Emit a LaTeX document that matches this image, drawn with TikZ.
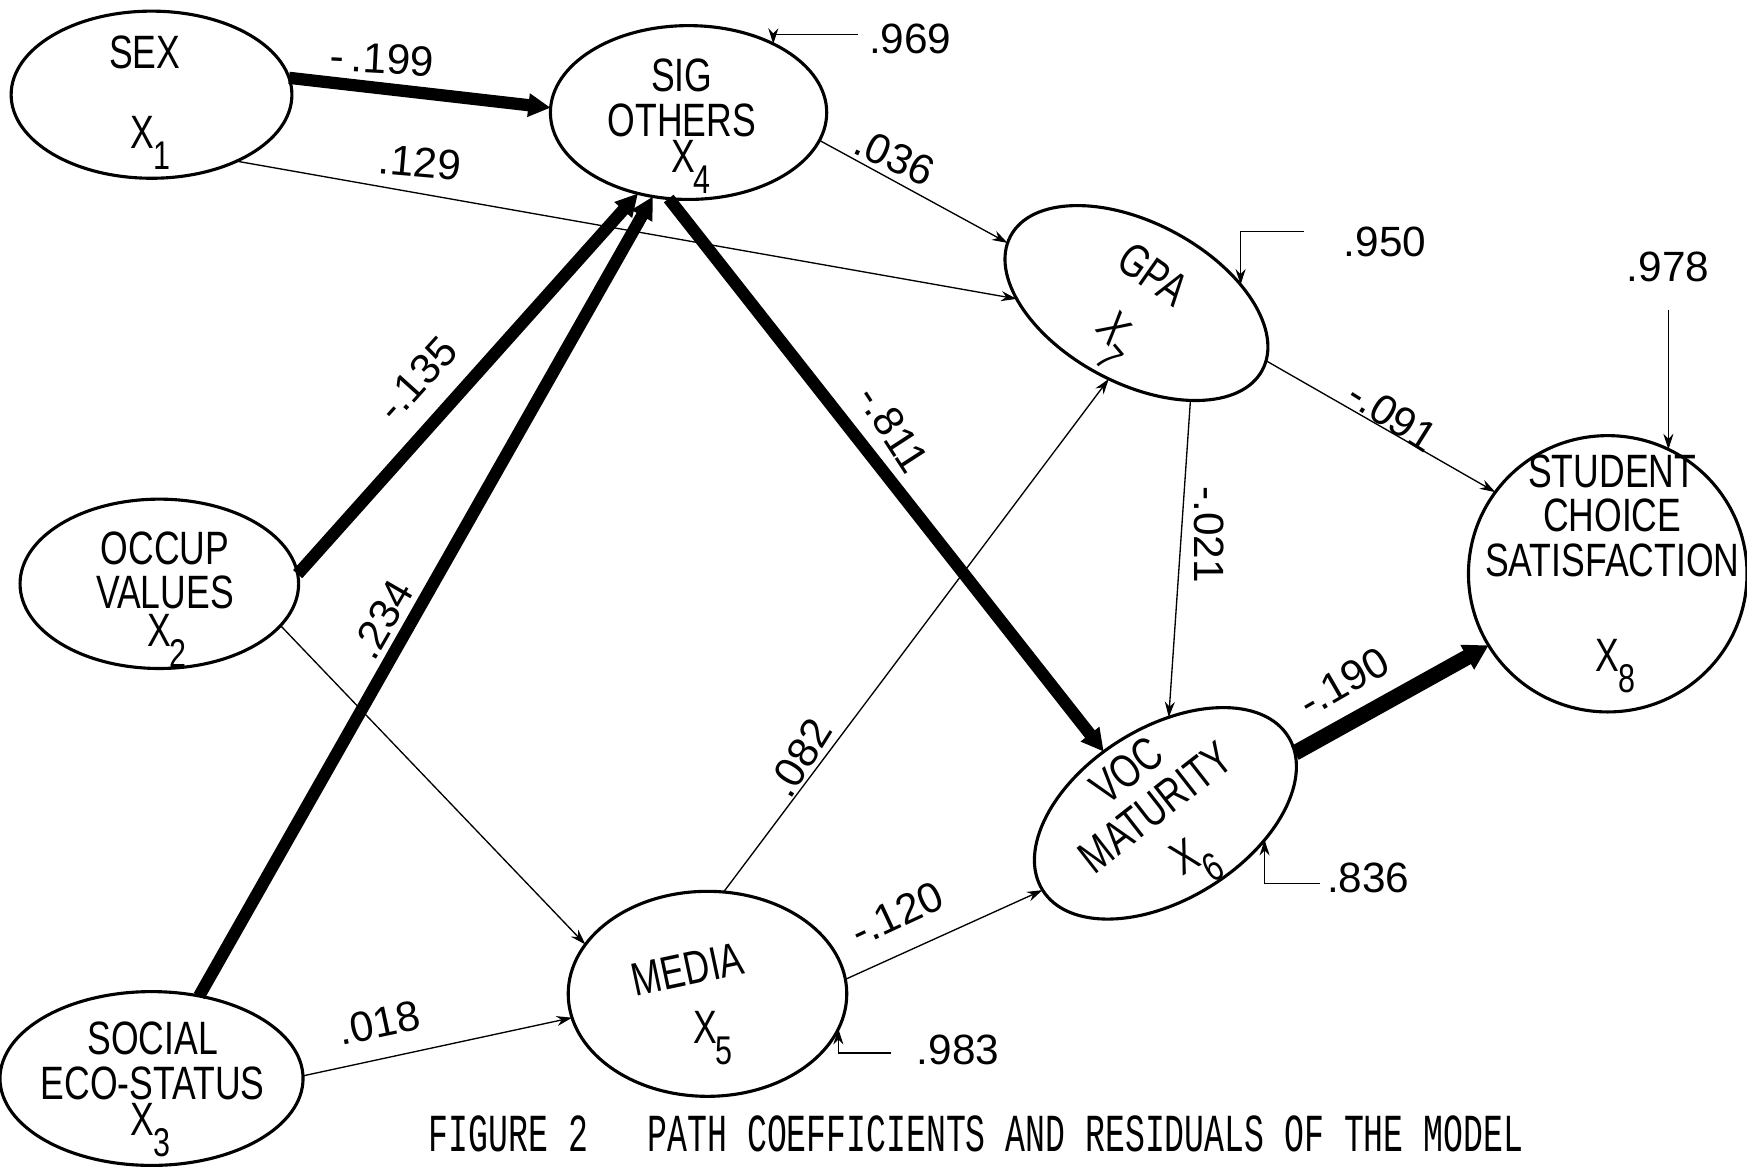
\documentclass[tikz,border=0pt]{standalone}
\usepackage{fontspec}
\setmainfont{Liberation Sans}
\newfontfamily\handfont[FakeStretch=0.76]{Liberation Sans}
\newfontfamily\capfont[FakeStretch=0.62]{Liberation Mono}
\usetikzlibrary{shapes.geometric,arrows.meta}
\newcommand\Xsub[1]{X\kern-0.5pt\raisebox{-0.45em}{\fontsize{18}{18}\selectfont #1}}
\begin{document}
\begin{tikzpicture}[x=0.5pt,y=-0.5pt,
  ell/.style={draw, ellipse, line width=1.4pt, inner sep=0pt, outer sep=0pt},
  txt/.style={font=\handfont\fontsize{21}{24}\selectfont, inner sep=0pt, align=center},
  num/.style={font=\fontsize{19}{21}\selectfont, inner sep=0pt},
  thin/.style={line width=0.6pt, -{Stealth[length=7pt,width=4.5pt]}},
  heavy/.style={line width=5.5pt, -{Triangle[length=10pt,width=10pt]}},
  heavier/.style={line width=7pt, -{Triangle[length=11pt,width=12pt]}}]
\useasboundingbox[fill=white] (0,0) rectangle (1568,1047);

% ellipses
\node[ell, minimum width=126pt, minimum height=75pt] (sex) at (136,85) {};
\node[ell, minimum width=124pt, minimum height=78pt] (sig) at (618,101) {};
\node[ell, minimum width=128pt, minimum height=72pt, rotate=-28] (gpa) at (1020,272) {};
\node[ell, minimum width=125pt, minimum height=76pt] (occ) at (143,524) {};
\node[ell, minimum width=136pt, minimum height=78pt] (soc) at (136,968) {};
\node[ell, minimum width=125pt, minimum height=92pt] (med) at (635,892) {};
\node[ell, minimum width=130pt, minimum height=77pt, rotate=32] (voc) at (1046,730) {};
\node[ell, minimum width=125pt, minimum height=124pt] (stu) at (1443,515) {};

% texts in ellipses
\node[txt] (tsex) at (130,47) {SEX};
\node[txt] (xsex) at (135,128) {\Xsub{1}};
\node[txt] (tsig) at (612,88) {SIG\\[-4pt]OTHERS};
\node[txt] (xsig) at (620,150) {\Xsub{4}};
\node[txt, rotate=-35] (tgpa) at (1035,246) {GPA};
\node[txt, rotate=-50] (xgpa) at (998,306) {\Xsub{7}};
\node[txt] (tocc) at (148,512) {OCCUP\\[-4pt]VALUES};
\node[txt] (xocc) at (150,575) {\Xsub{2}};
\node[txt] (tsoc) at (137,952) {SOCIAL\\[-4pt]ECO-STATUS};
\node[txt] (xsoc) at (135,1014) {\Xsub{3}};
\node[txt, rotate=12] (tmed) at (617,870) {MEDIA};
\node[txt] (xmed) at (640,932) {\Xsub{5}};
\node[txt, rotate=38] (tvoc) at (1024,708) {VOC\\[-3pt]MATURITY};
\node[txt, rotate=30] (xvoc) at (1074,774) {\Xsub{6}};
\node[txt] (tstu) at (1447,463) {STUDENT\\[-4pt]CHOICE\\[-4pt]SATISFACTION};
\node[txt] (xstu) at (1450,598) {\Xsub{8}};

% connectors
\draw[heavy] (sex.7) -- (sig.178);
\draw[thin] (sex.-38.6) -- (gpa.206);
\draw[heavy] (occ.4) -- (sig.238);
\draw[heavy] (soc.60) -- (sig.247);
\draw[heavy] (sig.257) -- (voc.103.6);
\draw[thin] (sig.-12.5) -- (gpa.183);
\draw[thin] (occ.-19.6) -- (med.158.7);
\draw[thin] (soc.1.3) -- (med.190.6);
\draw[thin] (med.81.9) -- (gpa.-82.7);
\draw[thin] (med.6.4) -- (voc.180.7);
\draw[thin] (gpa.-33.5) -- (voc.56.5);
\draw[thin] (gpa.4.4) -- (stu.144.5);
\draw[heavier] (voc.-7.4) -- (stu.211.5);

% residuals
\coordinate (r969) at (770,31);
\draw[thin] (r969) -| (sig.39.5);
\coordinate (r950) at (1170,208);
\draw[thin] (r950) -| (gpa.38);
\draw[thin] (stu.64) ++(0,-125) coordinate (r978) -- (stu.64);
\coordinate (r836) at (1185,793);
\draw[thin] (r836) -| (voc.-47.7);
\coordinate (r983) at (800,945);
\draw[thin] (r983) -| (med.-15.8);

% coefficient labels
\node[num, rotate=-3] (l199) at (343,53) {-\,.199};
\node[num, rotate=-5] (l129) at (377,146) {.129};
\node[num, rotate=-25] (l036) at (803,141) {.036};
\node[num, rotate=48] (l135) at (374,340) {-.135};
\node[num, rotate=60] (l234) at (343,556) {.234};
\node[num, rotate=-57] (l811) at (802,385) {-.811};
\node[num, rotate=58] (l082) at (718,680) {.082};
\node[num, rotate=25] (l120) at (805,820) {-.120};
\node[num, rotate=-90] (l021) at (1085,480) {-.021};
\node[num, rotate=-32] (l091) at (1250,373) {-.091};
\node[num, rotate=30] (l190) at (1206,612) {-.190};
\node[num, rotate=12] (l018) at (340,918) {.018};
\node[num] (l969) at (817,35) {.969};
\node[num] (l950) at (1243,217) {.950};
\node[num] (l978) at (1497,240) {.978};
\node[num] (l836) at (1228,788) {.836};
\node[num] (l983) at (860,942) {.983};

% caption
\node[font=\capfont\fontsize{24}{26}\selectfont, inner sep=0pt] (cap) at (876,1018)
  {FIGURE~2~~~PATH COEFFICIENTS AND RESIDUALS OF THE MODEL};
\end{tikzpicture}
\end{document}
